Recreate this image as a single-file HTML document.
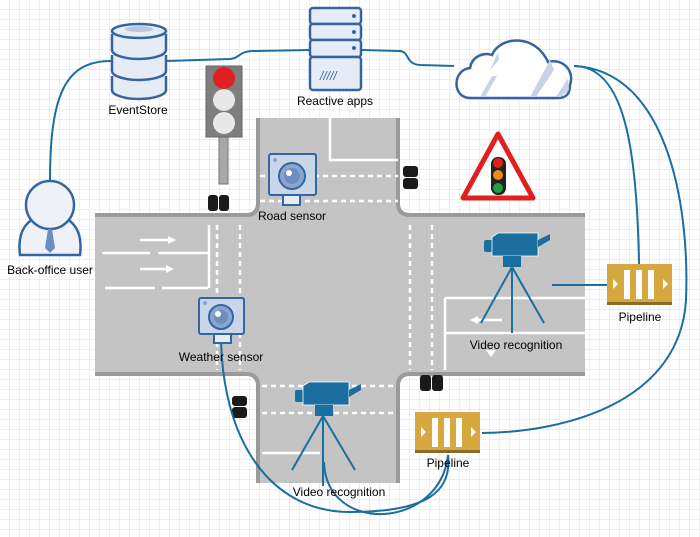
<!DOCTYPE html>
<html><head><meta charset="utf-8"><style>
html,body{margin:0;padding:0;background:#fff;}
svg{display:block;font-family:"Liberation Sans",sans-serif;}
</style></head><body>
<svg width="700" height="537" viewBox="0 0 700 537" xmlns="http://www.w3.org/2000/svg">
<defs>
<pattern id="g" width="10" height="10" patternUnits="userSpaceOnUse">
<path d="M10 0V10H0" fill="none" stroke="#dcdcf4" stroke-width="1"/>
</pattern>
</defs>
<rect width="700" height="537" fill="#fff"/>
<rect width="700" height="537" fill="url(#g)"/>

<rect x="95" y="213" width="490" height="163" fill="#c4c4c4"/>
<rect x="256" y="118" width="144" height="365" fill="#c4c4c4"/>
<path d="M95 215 H246 Q258 215 258 203 V118" fill="none" stroke="#9a9a9a" stroke-width="4"/>
<path d="M398 118 V203 Q398 215 410 215 H585" fill="none" stroke="#9a9a9a" stroke-width="4"/>
<path d="M95 374 H246 Q258 374 258 386 V483" fill="none" stroke="#9a9a9a" stroke-width="4"/>
<path d="M398 483 V386 Q398 374 410 374 H585" fill="none" stroke="#9a9a9a" stroke-width="4"/>
<rect x="95" y="217" width="490" height="155" fill="#c4c4c4"/>
<rect x="260" y="118" width="136" height="365" fill="#c4c4c4"/>
<g stroke="#fff" stroke-width="2.5" fill="none">
<path d="M330 118 V160 H398"/>
<path d="M209 225 V288"/>
<path d="M102 253 H150 M158 253 H208 M105 288 H155 M162 288 H208"/>
<path d="M140 240 H170 M140 269 H168"/>
<path d="M445 298 V370 M445 298 H585 M445 333 H585"/>
<path d="M475 320 H502"/>
<path d="M262 453 H320"/>
</g>
<g stroke="#fff" stroke-width="2.5" fill="none" stroke-dasharray="5 4">
<path d="M217 225 V370 M240 225 V370"/>
<path d="M410 225 V370 M432 225 V370"/>
<path d="M260 176 H398 M260 201 H398"/>
<path d="M262 386 H396 M262 413 H396"/>
</g>
<path d="M168 236 L176 240 L168 244Z M166 265 L174 269 L166 273Z M478 316 L470 320 L478 324Z M486 350 L491 357 L496 350Z" fill="#fff"/>

<g fill="#1a1a1a">
<rect x="208" y="195" width="10" height="16" rx="3"/><rect x="219" y="195" width="10" height="16" rx="3"/>
<rect x="403" y="166" width="15" height="11" rx="3"/><rect x="403" y="178" width="15" height="11" rx="3"/>
<rect x="420" y="375" width="11" height="16" rx="3"/><rect x="432" y="375" width="11" height="16" rx="3"/>
<rect x="232" y="396" width="15" height="10" rx="3"/><rect x="232" y="407" width="15" height="11" rx="3"/>
</g>

<g fill="none" stroke="#1a6fa0" stroke-width="2">
<path d="M50 181 C50 95 65 61 111 61"/>
<path d="M166 61 L230 59 C240 58 238 52 252 51 L310 50"/>
<path d="M362 50 L400 51 C410 52 405 64 420 65 L454 66"/>
<path d="M574 66 C625 66 637 150 639 264"/>
<path d="M574 66 C665 70 690 200 686 300 C680 400 570 432 482 433"/>
<path d="M552 285 H607"/>
<path d="M221 333 C221 440 270 512 350 512 C430 512 452 490 448 455"/>
<path d="M324 462 C326 535 440 530 448 455"/>
</g>

<g stroke="#3565a0" stroke-width="2.5" fill="#e6ecf5">
<path d="M112 76 v14 a27 9 0 0 0 54 0 v-14"/>
<path d="M112 55 v16 a27 9 0 0 0 54 0 v-16"/>
<path d="M112 34 v16 a27 9 0 0 0 54 0 v-16"/>
<ellipse cx="139" cy="31" rx="27" ry="7"/>
</g>
<ellipse cx="139" cy="29" rx="14" ry="3" fill="#b8c8e0"/>
<text x="138" y="114" font-size="12" text-anchor="middle">EventStore</text>

<g stroke="#3565a0" stroke-width="2.5" fill="#e6ecf5">
<rect x="310" y="8" width="51" height="16" rx="3"/>
<rect x="310" y="24" width="51" height="16" rx="3"/>
<rect x="310" y="40" width="51" height="17" rx="3"/>
<rect x="310" y="57" width="51" height="33" rx="3"/>
</g>
<g fill="#3565a0"><circle cx="354" cy="16" r="2"/><circle cx="354" cy="32" r="2"/><circle cx="354" cy="48" r="2"/></g>
<text x="320" y="80" font-size="12" fill="#3565a0" font-style="italic">/////</text>
<text x="335" y="105" font-size="12" text-anchor="middle">Reactive apps</text>

<path d="M470 98 C452 98 452 70 470 68 C472 56 484 52 492 55 C500 36 535 33 548 62 C562 58 575 70 570 85 C570 95 565 98 558 98 Z" fill="#fff" stroke="#3565a0" stroke-width="2.5"/>
<path d="M480 97 L492 76 L497 76 L485 97Z M530 97 L550 60 L554 70 L536 97Z M556 97 L568 78 L569 90 L561 97Z M490 70 L498 52 L499 60Z" fill="#c8d4e6"/>

<rect x="219" y="137" width="9" height="47" fill="#a8a8a8" stroke="#777"/>
<rect x="206" y="66" width="36" height="71" fill="#7e7e7e" stroke="#666"/>
<circle cx="224" cy="78" r="11" fill="#e02020"/>
<circle cx="224" cy="100" r="11" fill="#e8e8e8"/>
<circle cx="224" cy="123" r="11" fill="#e8e8e8"/>

<path d="M498 134 L533 198 L463 198Z" fill="#fff" stroke="#e02020" stroke-width="5" stroke-linejoin="round"/>
<rect x="491" y="157" width="15" height="38" rx="7" fill="#222"/>
<circle cx="498" cy="163" r="5" fill="#e02020"/>
<circle cx="498" cy="175" r="5" fill="#f08a10"/>
<circle cx="498" cy="188" r="5" fill="#20a040"/>

<g>
<rect x="283" y="195" width="17" height="10" fill="#e6ecf5" stroke="#3565a0" stroke-width="2"/>
<rect x="269" y="154" width="47" height="41" rx="2" fill="#c8d6ea" stroke="#3565a0" stroke-width="2"/>
<circle cx="292" cy="176" r="13" fill="#8aa6d0" stroke="#3565a0" stroke-width="2"/>
<circle cx="292" cy="176" r="8" fill="#6e8ec0"/>
<circle cx="289" cy="173" r="3" fill="#fff"/>
<circle cx="275" cy="160" r="2" fill="#8aa6d0"/>
</g>
<text x="292" y="220" font-size="12" text-anchor="middle">Road sensor</text>

<g>
<rect x="214" y="333" width="17" height="10" fill="#e6ecf5" stroke="#3565a0" stroke-width="2"/>
<rect x="199" y="298" width="45" height="36" rx="2" fill="#c8d6ea" stroke="#3565a0" stroke-width="2"/>
<circle cx="221" cy="317" r="12" fill="#8aa6d0" stroke="#3565a0" stroke-width="2"/>
<circle cx="221" cy="317" r="7" fill="#6e8ec0"/>
<circle cx="218" cy="314" r="3" fill="#fff"/>
<circle cx="205" cy="303" r="2" fill="#8aa6d0"/>
</g>
<text x="221" y="361" font-size="12" text-anchor="middle">Weather sensor</text>

<path d="M20 255 C16 222 36 215 50 215 C64 215 84 222 80 255 Z" fill="#eef2f8" stroke="#3565a0" stroke-width="2.5"/>
<circle cx="50" cy="205" r="24" fill="#eef2f8" stroke="#3565a0" stroke-width="2.5"/>
<path d="M48 229 h4 l3 19 l-5 5 l-5 -5z" fill="#6a8ec0"/>
<text x="50" y="274" font-size="12" text-anchor="middle">Back-office user</text>

<g fill="#1a6fa0" stroke="#1a6fa0">
<rect x="484" y="240" width="10" height="12" rx="2" stroke="none"/>
<path d="M492 237 L498 233 L538 233 L538 256 L492 256Z" stroke="#fff" stroke-width="0.8"/>
<path d="M538 240 L550 234 L550 240 L538 247Z" stroke="none"/>
<rect x="503" y="256" width="18" height="11" stroke="none"/>
<path d="M512 267 L481 323 M512 267 L512 333 M512 267 L544 323" fill="none" stroke-width="2"/>
</g>
<text x="516" y="349" font-size="12" text-anchor="middle">Video recognition</text>

<g fill="#1a6fa0" stroke="#1a6fa0">
<rect x="295" y="390" width="10" height="12" rx="2" stroke="none"/>
<path d="M303 386 L309 382 L349 382 L349 405 L303 405Z" stroke="#fff" stroke-width="0.8"/>
<path d="M349 390 L361 384 L361 390 L349 397Z" stroke="none"/>
<rect x="315" y="405" width="18" height="11" stroke="none"/>
<path d="M323 416 L292 470 M323 416 L323 486 M323 416 L355 470" fill="none" stroke-width="2"/>
</g>
<text x="339" y="496" font-size="12" text-anchor="middle">Video recognition</text>

<rect x="607" y="264" width="65" height="41" fill="#d8a840"/>
<rect x="607" y="302" width="65" height="3" fill="#8a6a28"/>
<g fill="#fff"><rect x="624" y="270" width="6" height="29"/><rect x="636" y="270" width="6" height="29"/><rect x="648" y="270" width="6" height="29"/>
<path d="M613 279 L618 284 L613 289Z M663 279 L668 284 L663 289Z"/></g>
<text x="640" y="321" font-size="12" text-anchor="middle">Pipeline</text>

<rect x="415" y="412" width="65" height="41" fill="#d8a840"/>
<rect x="415" y="450" width="65" height="3" fill="#8a6a28"/>
<g fill="#fff"><rect x="432" y="418" width="6" height="29"/><rect x="444" y="418" width="6" height="29"/><rect x="456" y="418" width="6" height="29"/>
<path d="M421 427 L426 432 L421 437Z M471 427 L476 432 L471 437Z"/></g>
<text x="448" y="467" font-size="12" text-anchor="middle">Pipeline</text>
</svg>
</body></html>
